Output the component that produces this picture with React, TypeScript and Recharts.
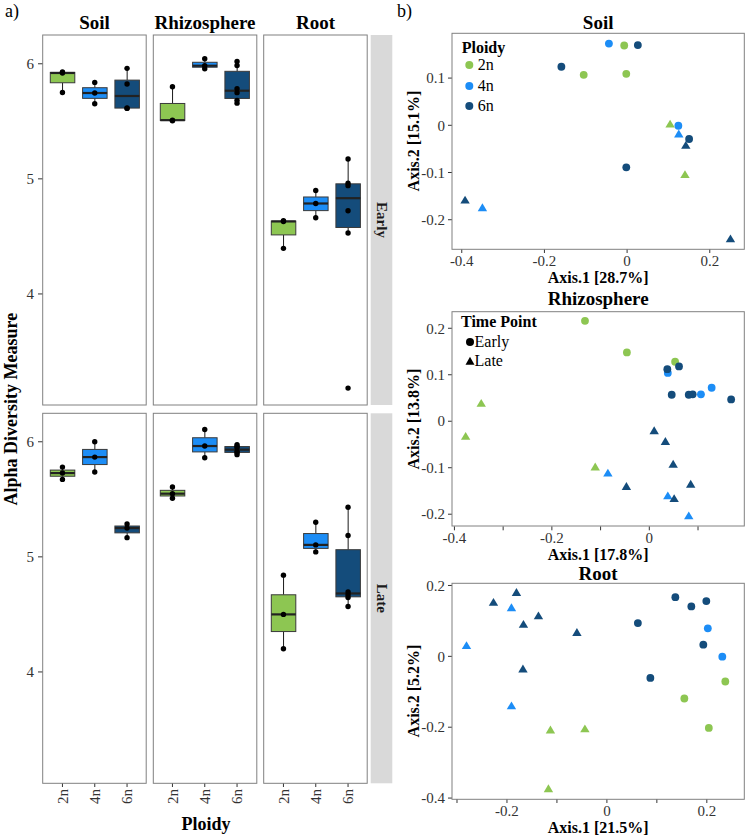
import React from 'react'
import { ComposedChart, Bar, Line, XAxis, YAxis, ScatterChart, Scatter, Legend } from 'recharts'

const FONT = 'Liberation Serif, Times New Roman, serif'
const INK = '#000000'
const AXIS_TEXT = '#333333'
const FRAME = '#808080'
const STRIP = '#D9D9D9'

const ploidyLevels = ['2n', '4n', '6n']
const ploidyColors = ['#8DC652', '#1C8DF6', '#144C7B']
const compartments = ['Soil', 'Rhizosphere', 'Root']
const timePoints = ['Early', 'Late']

// a) alpha diversity per sample, grouped as [2n, 4n, 6n]
const soilEarly = [[5.93, 5.92, 5.75], [5.838, 5.746, 5.653], [5.96, 5.824, 5.616, 5.612]]
const rhizoEarly = [[5.8, 5.51, 5.505], [6.043, 5.983, 5.957], [6.02, 5.985, 5.783, 5.749, 5.682, 5.658]]
const rootEarly = [[4.636, 4.63, 4.396], [4.899, 4.786, 4.662], [5.173, 4.962, 4.941, 4.723, 4.529, 3.182]]
const soilLate = [[5.78, 5.728, 5.673], [6.0, 5.867, 5.737], [5.286, 5.25, 5.167]]
const rhizoLate = [[5.607, 5.549, 5.509], [6.107, 5.963, 5.861], [5.975, 5.962, 5.948, 5.915, 5.905, 5.888]]
const rootLate = [[4.841, 4.5, 4.202], [5.301, 5.104, 5.043], [5.431, 5.185, 4.694, 4.67, 4.647, 4.569]]

const alphaDomain = [3.035, 6.25]
const alphaTicks = [4, 5, 6]

// b) PCoA scores: [Axis.1, Axis.2, ploidy, time point]
const soilPcoa = [
  [-0.044, 0.173, '4n', 'Early'], [-0.007, 0.169, '2n', 'Early'], [0.026, 0.17, '6n', 'Early'],
  [-0.159, 0.124, '6n', 'Early'], [-0.105, 0.107, '2n', 'Early'], [-0.002, 0.109, '2n', 'Early'],
  [0.124, -0.001, '4n', 'Early'], [0.15, -0.029, '6n', 'Early'], [-0.002, -0.089, '6n', 'Early'],
  [0.104, 0.003, '2n', 'Late'], [0.125, -0.018, '4n', 'Late'], [0.142, -0.042, '6n', 'Late'],
  [0.14, -0.104, '2n', 'Late'], [-0.392, -0.158, '6n', 'Late'], [-0.35, -0.174, '4n', 'Late'],
  [0.25, -0.24, '6n', 'Late'],
]
const rhizoPcoa = [
  [-0.132, 0.216, '2n', 'Early'], [-0.046, 0.148, '2n', 'Early'], [0.053, 0.128, '2n', 'Early'],
  [0.037, 0.112, '6n', 'Early'], [0.038, 0.104, '4n', 'Early'], [0.061, 0.118, '6n', 'Early'],
  [0.046, 0.057, '6n', 'Early'], [0.081, 0.057, '6n', 'Early'], [0.089, 0.058, '6n', 'Early'],
  [0.106, 0.058, '4n', 'Early'], [0.128, 0.072, '4n', 'Early'], [0.168, 0.047, '6n', 'Early'],
  [-0.345, 0.039, '2n', 'Late'], [-0.377, -0.032, '2n', 'Late'], [-0.111, -0.098, '2n', 'Late'],
  [-0.085, -0.111, '4n', 'Late'], [-0.047, -0.14, '6n', 'Late'], [0.01, -0.02, '6n', 'Late'],
  [0.033, -0.043, '6n', 'Late'], [0.049, -0.092, '6n', 'Late'], [0.085, -0.135, '6n', 'Late'],
  [0.038, -0.16, '4n', 'Late'], [0.051, -0.166, '6n', 'Late'], [0.081, -0.203, '4n', 'Late'],
]
const rootPcoa = [
  [-0.227, 0.153, '6n', 'Late'], [-0.181, 0.181, '6n', 'Late'], [-0.191, 0.138, '4n', 'Late'],
  [-0.137, 0.115, '6n', 'Late'], [-0.167, 0.091, '6n', 'Late'], [-0.06, 0.068, '6n', 'Late'],
  [-0.281, 0.031, '4n', 'Late'], [-0.168, -0.035, '6n', 'Late'], [-0.191, -0.139, '4n', 'Late'],
  [-0.113, -0.207, '2n', 'Late'], [-0.044, -0.204, '2n', 'Late'], [-0.117, -0.373, '2n', 'Late'],
  [0.137, 0.167, '6n', 'Early'], [0.169, 0.141, '6n', 'Early'], [0.199, 0.156, '6n', 'Early'],
  [0.062, 0.094, '6n', 'Early'], [0.202, 0.079, '4n', 'Early'], [0.193, 0.033, '6n', 'Early'],
  [0.231, -0.001, '4n', 'Early'], [0.087, -0.061, '6n', 'Early'], [0.237, -0.071, '2n', 'Early'],
  [0.155, -0.119, '2n', 'Early'], [0.204, -0.202, '2n', 'Early'],
]

// layout
const PANEL_LEFTS = [42.7, 153.3, 263.7]
const PANEL_W = 103.5
const ROW_TOPS = [35, 413.3]
const PANEL_H = 370
const STRIP_X = 370.7
const STRIP_W = 21.6

const PCOA_YAXIS_W = 72
const PCOA_LEFT = 380
const PCOA_PLOT_W = 292.3
const PCOA_XAXIS_H = 40
const PCOA_PAD = 5

function quantile(sorted: number[], p: number) {
  const h = (sorted.length - 1) * p
  const lo = Math.floor(h)
  const next = lo + 1 < sorted.length ? sorted[lo + 1] : sorted[lo]
  return sorted[lo] + (h - lo) * (next - sorted[lo])
}

function boxStats(values: number[]) {
  const s = [...values].sort((a, b) => a - b)
  const q1 = quantile(s, 0.25)
  const med = quantile(s, 0.5)
  const q3 = quantile(s, 0.75)
  const iqr = q3 - q1
  const lo = s.find(v => v >= q1 - 1.5 * iqr) as number
  const hi = [...s].reverse().find(v => v <= q3 + 1.5 * iqr) as number
  return { q1, med, q3, lo, hi }
}

function toBoxRows(groups: number[][]) {
  return ploidyLevels.map((p, i) => {
    const st = boxStats(groups[i])
    const row: any = { ploidy: p, whisker: [st.lo, st.hi], q1: st.q1, med: st.med, q3: st.q3, fill: ploidyColors[i] }
    groups[i].forEach((v, k) => { row['p' + k] = v })
    return row
  })
}

const BoxShape = (props: any) => {
  const { x, y, width, height, payload } = props
  const [lo, hi] = payload.whisker
  const top = Math.min(y, y + height)
  const bot = Math.max(y, y + height)
  const py = (v: number) => top + ((hi - v) / (hi - lo)) * (bot - top)
  const cx = x + width / 2
  return (
    <g>
      <line x1={cx} x2={cx} y1={py(hi)} y2={py(payload.q3)} stroke="#1a1a1a" strokeWidth={1} />
      <line x1={cx} x2={cx} y1={py(payload.q1)} y2={py(lo)} stroke="#1a1a1a" strokeWidth={1} />
      <rect x={x} y={py(payload.q3)} width={width} height={Math.max(py(payload.q1) - py(payload.q3), 0.5)}
        fill={payload.fill} stroke="#3a3a3a" strokeWidth={1} />
      <line x1={x} x2={x + width} y1={py(payload.med)} y2={py(payload.med)} stroke="#222" strokeWidth={2.2} />
    </g>
  )
}

const RotatedTick = (props: any) => {
  const { x, y, payload } = props
  return (
    <text x={x} y={y} transform={`rotate(-90, ${x}, ${y})`} textAnchor="end" dy="0.35em"
      fontSize={15} fontFamily={FONT} style={{ fontFamily: FONT }} fill={AXIS_TEXT}>{payload.value}</text>
  )
}

const LeftTick = (props: any) => {
  const { x, y, payload } = props
  return (
    <text x={x} y={y} textAnchor="end" dy="0.35em" fontSize={15} fontFamily={FONT}
      style={{ fontFamily: FONT }} fill={AXIS_TEXT}>{String(payload.value)}</text>
  )
}

const bottomTick = (labelled: number[]) => (props: any) => {
  const { x, y, payload } = props
  const v = payload.value
  return (
    <text x={x} y={y} textAnchor="middle" dy="0.71em" fontSize={15} fontFamily={FONT}
      style={{ fontFamily: FONT }} fill={AXIS_TEXT}>{labelled.includes(v) ? String(v) : ''}</text>
  )
}

function AlphaFacet({ groups, col, row }: { groups: number[][]; col: number; row: number }) {
  const showY = col === 0
  const showX = row === 1
  const yW = showY ? 30 : 0
  const xH = showX ? 34 : 0
  const data = toBoxRows(groups)
  const maxN = Math.max(...groups.map(g => g.length))
  const pointKeys = Array.from({ length: maxN }, (_, i) => 'p' + i)
  return (
    <div style={{ position: 'absolute', left: PANEL_LEFTS[col] - yW, top: ROW_TOPS[row] }}>
      <ComposedChart width={PANEL_W + yW} height={PANEL_H + xH} data={data}
        margin={{ top: 0, right: 0, bottom: 0, left: 0 }}>
        <XAxis dataKey="ploidy" type="category" hide={!showX} height={xH} padding={{ left: 3.3, right: 3.3 }}
          axisLine={false} tickSize={4} tickMargin={2} stroke="#333" interval={0} tick={RotatedTick} />
        <YAxis type="number" domain={alphaDomain} ticks={alphaTicks} allowDataOverflow hide={!showY} width={yW}
          axisLine={false} tickSize={5} tickMargin={4} stroke="#333" tick={LeftTick} />
        <Bar dataKey="whisker" barSize={24.5} shape={BoxShape} isAnimationActive={false} />
        {pointKeys.map(k => (
          <Line key={k} dataKey={k} stroke="none" legendType="none" activeDot={false}
            dot={{ r: 2.7, fill: INK, stroke: INK, strokeWidth: 0 }} isAnimationActive={false} />
        ))}
      </ComposedChart>
    </div>
  )
}

const markerShape = (color: string, time: string) => (props: any) => {
  const { cx, cy } = props
  if (time === 'Early') return <circle cx={cx} cy={cy} r={3.9} fill={color} />
  return <path d={`M${cx},${cy - 4.2} L${cx + 4.7},${cy + 3.7} L${cx - 4.7},${cy + 3.7} Z`} fill={color} />
}

const PloidyLegend = () => (
  <div style={{ fontFamily: FONT, color: INK }}>
    <div style={{ fontWeight: 'bold', fontSize: 16, lineHeight: '15px', height: 15, fontFamily: FONT }}>Ploidy</div>
    {ploidyLevels.map((p, i) => (
      <div key={p} style={{ display: 'flex', alignItems: 'center', height: 20.5, fontSize: 16 }}>
        <svg width={16} height={10} style={{ display: 'block' }}><circle cx={7.3} cy={5} r={4} fill={ploidyColors[i]} /></svg>
        <span style={{ fontFamily: FONT }}>{p}</span>
      </div>
    ))}
  </div>
)

const TimeLegend = () => (
  <div style={{ fontFamily: FONT, color: INK }}>
    <div style={{ fontWeight: 'bold', fontSize: 16, lineHeight: '21px', height: 21, fontFamily: FONT }}>Time Point</div>
    {timePoints.map(t => (
      <div key={t} style={{ display: 'flex', alignItems: 'center', height: 19, fontSize: 16 }}>
        <svg width={13.5} height={10} style={{ display: 'block' }}>
          {t === 'Early'
            ? <circle cx={9} cy={5} r={4} fill={INK} />
            : <path d="M9,0.8 L13.5,8.7 L4.5,8.7 Z" fill={INK} />}
        </svg>
        <span style={{ fontFamily: FONT }}>{t}</span>
      </div>
    ))}
  </div>
)

const xTitleContent = (text: string) => (props: any) => {
  const vb = props.viewBox || {}
  return (
    <text x={vb.x + vb.width / 2} y={vb.y + 34} textAnchor="middle" fontFamily={FONT} style={{ fontFamily: FONT }}
      fontWeight="bold" fontSize={16} fill={INK}>{text}</text>
  )
}

const yTitleContent = (text: string) => (props: any) => {
  const vb = props.viewBox || {}
  const x = vb.x + 39.5
  const y = vb.y + vb.height / 2
  return (
    <text x={x} y={y} transform={`rotate(-90, ${x}, ${y})`} textAnchor="middle" fontFamily={FONT}
      style={{ fontFamily: FONT }} fontWeight="bold" fontSize={16} fill={INK}>{text}</text>
  )
}

function PcoaPlot(props: any) {
  const { points, plotTop, plotH, xDomain, yDomain, xTicks, xLabelled, yTicks, xTitle, yTitle, legend } = props
  const series: any[] = []
  timePoints.forEach(t => {
    ploidyLevels.forEach((p, i) => {
      const d = points.filter((q: any[]) => q[2] === p && q[3] === t).map((q: any[]) => ({ x: q[0], y: q[1] }))
      series.push({ key: p + t, data: d, color: ploidyColors[i], time: t })
    })
  })
  return (
    <div style={{ position: 'absolute', left: PCOA_LEFT, top: plotTop - PCOA_PAD }}>
      <ScatterChart width={PCOA_YAXIS_W + PCOA_PLOT_W + 4} height={PCOA_PAD + plotH + PCOA_XAXIS_H}
        margin={{ top: PCOA_PAD, right: 4, bottom: 0, left: 0 }}>
        <XAxis type="number" dataKey="x" domain={xDomain} ticks={xTicks} interval={0} allowDataOverflow
          height={PCOA_XAXIS_H} axisLine={false} tickSize={4} tickMargin={2} stroke="#333"
          tick={bottomTick(xLabelled)} label={{ content: xTitleContent(xTitle) }} />
        <YAxis type="number" dataKey="y" domain={yDomain} ticks={yTicks} interval={0} allowDataOverflow
          width={PCOA_YAXIS_W} axisLine={false} tickSize={4} tickMargin={3} stroke="#333"
          tick={LeftTick} label={{ content: yTitleContent(yTitle) }} />
        {series.map(s => (
          <Scatter key={s.key} data={s.data} fill={s.color} shape={markerShape(s.color, s.time)}
            isAnimationActive={false} />
        ))}
        {legend === 'ploidy' && (
          <Legend layout="vertical" align="center" verticalAlign="middle"
            wrapperStyle={{ top: 11.7, left: 81.7, width: 110, height: 'auto' }} content={() => <PloidyLegend />} />
        )}
        {legend === 'time' && (
          <Legend layout="vertical" align="center" verticalAlign="middle"
            wrapperStyle={{ top: 4.8, left: 81, width: 110, height: 'auto' }} content={() => <TimeLegend />} />
        )}
      </ScatterChart>
    </div>
  )
}

const pcoaPanels = [
  {
    title: 'Soil', points: soilPcoa, plotTop: 33.3, plotH: 216, titleY: 28.5,
    xDomain: [-0.4236, 0.2835], yDomain: [-0.262, 0.1955],
    xTicks: [-0.4, -0.2, 0, 0.2], xLabelled: [-0.4, -0.2, 0, 0.2], yTicks: [-0.2, -0.1, 0, 0.1],
    xTitle: 'Axis.1 [28.7%]', yTitle: 'Axis.2 [15.1%]', legend: 'ploidy',
  },
  {
    title: 'Rhizosphere', points: rhizoPcoa, plotTop: 311.7, plotH: 214.3, titleY: 304.5,
    xDomain: [-0.405, 0.195], yDomain: [-0.226, 0.235],
    xTicks: [-0.4, -0.3, -0.2, -0.1, 0, 0.1], xLabelled: [-0.4, -0.2, 0], yTicks: [-0.2, -0.1, 0, 0.1, 0.2],
    xTitle: 'Axis.1 [17.8%]', yTitle: 'Axis.2 [13.8%]', legend: 'time',
  },
  {
    title: 'Root', points: rootPcoa, plotTop: 583.3, plotH: 216, titleY: 579.5,
    xDomain: [-0.31, 0.275], yDomain: [-0.4026, 0.207],
    xTicks: [-0.3, -0.2, -0.1, 0, 0.1, 0.2], xLabelled: [-0.2, 0, 0.2], yTicks: [-0.4, -0.2, 0, 0.2],
    xTitle: 'Axis.1 [21.5%]', yTitle: 'Axis.2 [5.2%]', legend: 'none',
  },
]

const facetGrid = [
  [soilEarly, rhizoEarly, rootEarly],
  [soilLate, rhizoLate, rootLate],
]

export default function App() {
  const plotLeft = PCOA_LEFT + PCOA_YAXIS_W
  return (
    <div style={{ position: 'absolute', left: 0, top: 0, width: 750, height: 838, background: '#fff', overflow: 'hidden', fontFamily: FONT }}>
      <svg width={750} height={838} style={{ position: 'absolute', left: 0, top: 0 }}>
        {ROW_TOPS.map((t, r) => (
          <rect key={'strip' + r} x={STRIP_X} y={t} width={STRIP_W} height={PANEL_H} fill={STRIP} />
        ))}
      </svg>

      {facetGrid.map((rowGroups, r) =>
        rowGroups.map((g, c) => <AlphaFacet key={`f${r}${c}`} groups={g} col={c} row={r} />)
      )}

      {pcoaPanels.map(p => <PcoaPlot key={p.title} {...p} />)}

      <svg width={750} height={838} style={{ position: 'absolute', left: 0, top: 0, pointerEvents: 'none', fontFamily: FONT }} fontFamily={FONT}>
        <text x={5} y={17} fontSize={18} fill={INK}>a)</text>
        <text x={397} y={17} fontSize={18} fill={INK}>b)</text>
        {compartments.map((c, i) => (
          <text key={'st' + c} x={PANEL_LEFTS[i] + PANEL_W / 2} y={29.3} textAnchor="middle" fontSize={19}
            fontWeight="bold" fill={INK}>{c}</text>
        ))}
        {ROW_TOPS.map((t, r) => {
          const cy = t + PANEL_H / 2
          return (
            <text key={'rt' + r} x={376.5} y={cy} transform={`rotate(90, 376.5, ${cy})`} textAnchor="middle"
              fontSize={15} fontWeight="bold" fill="#1a1a1a">{timePoints[r]}</text>
          )
        })}
        {ROW_TOPS.map((t, r) => PANEL_LEFTS.map((l, c) => (
          <rect key={`b${r}${c}`} x={l} y={t} width={PANEL_W} height={PANEL_H} fill="none" stroke={FRAME} strokeWidth={1} />
        )))}
        <text x={17} y={409.2} transform="rotate(-90, 17, 409.2)" textAnchor="middle" fontSize={18}
          fontWeight="bold" fill={INK}>Alpha Diversity Measure</text>
        <text x={206} y={830} textAnchor="middle" fontSize={18} fontWeight="bold" fill={INK}>Ploidy</text>
        {pcoaPanels.map(p => (
          <g key={'pt' + p.title}>
            <text x={plotLeft + PCOA_PLOT_W / 2} y={p.titleY} textAnchor="middle" fontSize={19} fontWeight="bold"
              fill={INK}>{p.title}</text>
            <rect x={plotLeft} y={p.plotTop} width={PCOA_PLOT_W} height={p.plotH} fill="none" stroke={FRAME} strokeWidth={1} />
          </g>
        ))}
      </svg>
    </div>
  )
}
